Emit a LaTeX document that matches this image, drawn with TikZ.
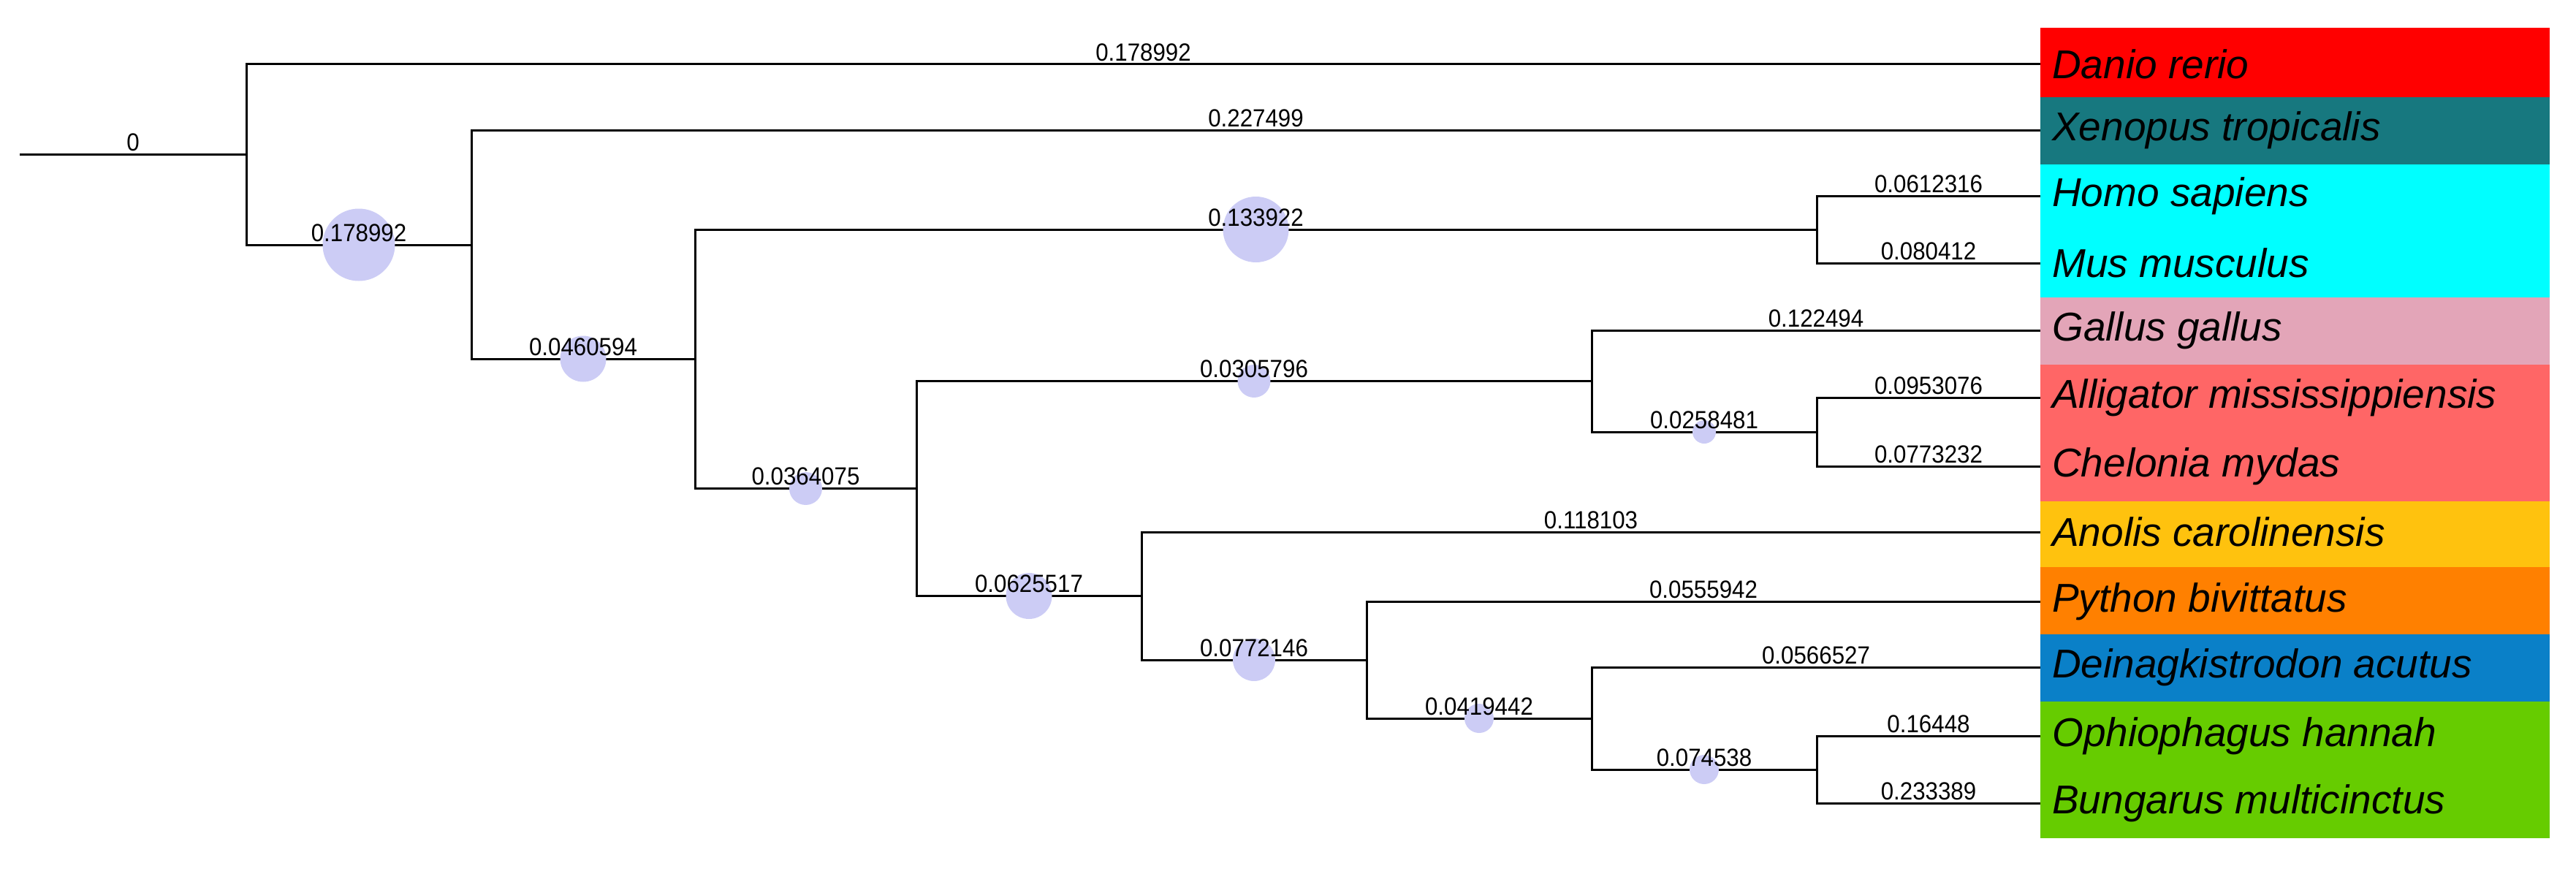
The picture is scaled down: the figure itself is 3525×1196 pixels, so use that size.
\documentclass[tikz,border=0pt]{standalone}
\usepackage{fontspec}
\setmainfont{Liberation Sans}
\definecolor{bub}{HTML}{CCCCF5}
\definecolor{cDanio}{HTML}{FF0000}
\definecolor{cXen}{HTML}{17787F}
\definecolor{cMam}{HTML}{00FFFF}
\definecolor{cGal}{HTML}{E3A5B8}
\definecolor{cRep}{HTML}{FF6666}
\definecolor{cAno}{HTML}{FFC20E}
\definecolor{cPy}{HTML}{FF8000}
\definecolor{cDei}{HTML}{0A80C8}
\definecolor{cSn}{HTML}{66CC00}
\tikzset{
  br/.style={draw=black,line width=3pt},
  lab/.style={anchor=south,inner sep=3pt,font=\fontsize{34}{36}\selectfont,xscale=0.92},
  bb/.style={circle,fill=bub,inner sep=0pt,minimum size=#1},
  sp/.style={anchor=west,font=\fontsize{55}{57}\selectfont\itshape,inner sep=0pt},
}
\begin{document}
\begin{tikzpicture}[x=1pt,y=-1pt]
\useasboundingbox (0,0) rectangle (3525,1196);
% colour boxes
\fill[cDanio] (2792,38) rectangle (3489,133);
\fill[cXen] (2792,133) rectangle (3489,225);
\fill[cMam] (2792,225) rectangle (3489,407);
\fill[cGal] (2792,407) rectangle (3489,499);
\fill[cRep] (2792,499) rectangle (3489,686);
\fill[cAno] (2792,686) rectangle (3489,776);
\fill[cPy] (2792,776) rectangle (3489,868);
\fill[cDei] (2792,868) rectangle (3489,960);
\fill[cSn] (2792,960) rectangle (3489,1147);
% tips
\coordinate (t1) at (2792,88);
\coordinate (t2) at (2792,178);
\coordinate (t3) at (2792,268);
\coordinate (t4) at (2792,360);
\coordinate (t5) at (2792,452);
\coordinate (t6) at (2792,544);
\coordinate (t7) at (2792,638);
\coordinate (t8) at (2792,728);
\coordinate (t9) at (2792,823);
\coordinate (t10) at (2792,913);
\coordinate (t11) at (2792,1007);
\coordinate (t12) at (2792,1099);
\node[sp] (s1) at (2808,88) {Danio rerio};
\node[sp] (s2) at (2808,178) {Xenopus tropicalis};
\node[sp] (s3) at (2808,268) {Homo sapiens};
\node[sp] (s4) at (2808,360) {Mus musculus};
\node[sp] (s5) at (2808,452) {Gallus gallus};
\node[sp] (s6) at (2808,544) {Alligator mississippiensis};
\node[sp] (s7) at (2808,638) {Chelonia mydas};
\node[sp] (s8) at (2808,728) {Anolis carolinensis};
\node[sp] (s9) at (2808,823) {Python bivittatus};
\node[sp] (s10) at (2808,913) {Deinagkistrodon acutus};
\node[sp] (s11) at (2808,1007) {Ophiophagus hannah};
\node[sp] (s12) at (2808,1099) {Bungarus multicinctus};
% internal nodes
\coordinate (root) at (27,211.5);
\coordinate (n1) at (337,211.5);
\coordinate (n2) at (645,335);
\coordinate (n3) at (951,491);
\coordinate (hm) at (2486,314);
\coordinate (n4) at (1254,668.5);
\coordinate (gac) at (2178,521.5);
\coordinate (ac) at (2486,591);
\coordinate (n5) at (1562,815.5);
\coordinate (n6) at (1870,903);
\coordinate (n7) at (2178,983);
\coordinate (ob) at (2486,1053);
% branches
\draw[br] (root) -- node[lab]{0} (n1);
\draw[br] (n1) |- node[pos=0.75,lab]{0.178992} (t1);
\draw[br] (n1) |- node[pos=0.75,bb=99pt]{} node[pos=0.75,lab]{0.178992} (n2);
\draw[br] (n2) |- node[pos=0.75,lab]{0.227499} (t2);
\draw[br] (n2) |- node[pos=0.75,bb=63pt]{} node[pos=0.75,lab]{0.0460594} (n3);
\draw[br] (n3) |- node[pos=0.75,bb=90pt]{} node[pos=0.75,lab]{0.133922} (hm);
\draw[br] (hm) |- node[pos=0.75,lab]{0.0612316} (t3);
\draw[br] (hm) |- node[pos=0.75,lab]{0.080412} (t4);
\draw[br] (n3) |- node[pos=0.75,bb=45pt]{} node[pos=0.75,lab]{0.0364075} (n4);
\draw[br] (n4) |- node[pos=0.75,bb=45pt]{} node[pos=0.75,lab]{0.0305796} (gac);
\draw[br] (gac) |- node[pos=0.75,lab]{0.122494} (t5);
\draw[br] (gac) |- node[pos=0.75,bb=32pt]{} node[pos=0.75,lab]{0.0258481} (ac);
\draw[br] (ac) |- node[pos=0.75,lab]{0.0953076} (t6);
\draw[br] (ac) |- node[pos=0.75,lab]{0.0773232} (t7);
\draw[br] (n4) |- node[pos=0.75,bb=63pt]{} node[pos=0.75,lab]{0.0625517} (n5);
\draw[br] (n5) |- node[pos=0.75,lab]{0.118103} (t8);
\draw[br] (n5) |- node[pos=0.75,bb=58pt]{} node[pos=0.75,lab]{0.0772146} (n6);
\draw[br] (n6) |- node[pos=0.75,lab]{0.0555942} (t9);
\draw[br] (n6) |- node[pos=0.75,bb=40pt]{} node[pos=0.75,lab]{0.0419442} (n7);
\draw[br] (n7) |- node[pos=0.75,lab]{0.0566527} (t10);
\draw[br] (n7) |- node[pos=0.75,bb=40pt]{} node[pos=0.75,lab]{0.074538} (ob);
\draw[br] (ob) |- node[pos=0.75,lab]{0.16448} (t11);
\draw[br] (ob) |- node[pos=0.75,lab]{0.233389} (t12);
\end{tikzpicture}
\end{document}
